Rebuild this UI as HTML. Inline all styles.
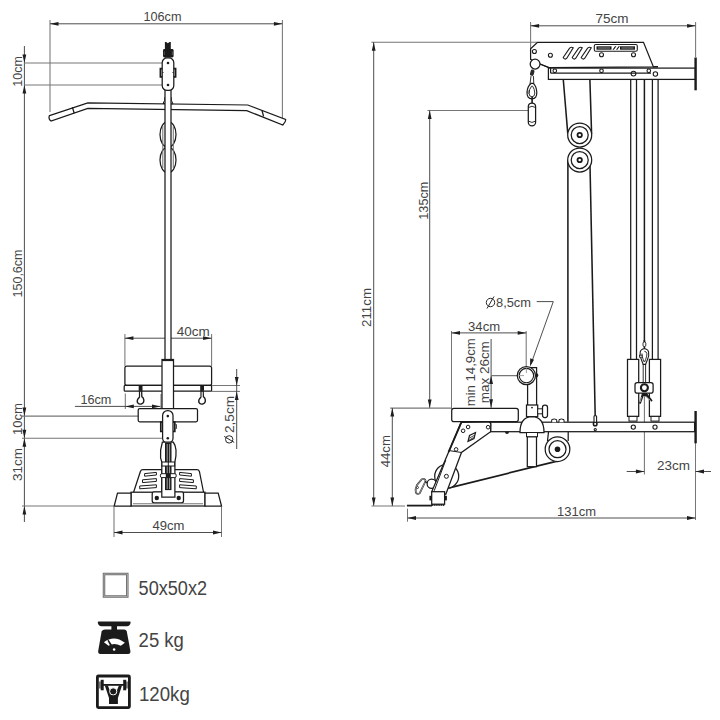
<!DOCTYPE html>
<html><head><meta charset="utf-8">
<style>
html,body{margin:0;padding:0;background:#fff;width:720px;height:720px;overflow:hidden}
svg{display:block}
text{font-family:"Liberation Sans",sans-serif;fill:#444}
.o{fill:#fff;stroke:#1b1b1b;stroke-width:1.25}
.on{fill:none;stroke:#1b1b1b;stroke-width:1.25}
.d{fill:none;stroke:#3a3a3a;stroke-width:0.9}
.e{fill:none;stroke:#767676;stroke-width:1.05}
.a{fill:#1e1e1e;stroke:none}
.k{fill:#1b1b1b;stroke:none}
</style></head>
<body>
<svg width="720" height="720" viewBox="0 0 720 720">
<!-- ================= LEFT VIEW ================= -->
<g id="leftdims">
  <!-- 106cm -->
  <line class="e" x1="50" y1="20" x2="50" y2="112"/>
  <line class="e" x1="282.4" y1="20" x2="282.4" y2="118"/>
  <line class="d" x1="50" y1="23.8" x2="282.4" y2="23.8"/>
  <path class="a" d="M50,23.8 l8.5,-1.9 v3.8 z M282.4,23.8 l-8.5,-1.9 v3.8 z"/>
  <text x="162.5" y="21.3" font-size="13.4" text-anchor="middle" textLength="38" lengthAdjust="spacingAndGlyphs">106cm</text>
  <!-- left vertical dim -->
  <line class="d" x1="24.4" y1="46" x2="24.4" y2="522"/>
  <line class="e" x1="24" y1="63" x2="163" y2="63"/>
  <line class="e" x1="24" y1="85" x2="163" y2="85"/>
  <path class="a" d="M24.4,63 l-1.9,-8.5 h3.8 z M24.4,85 l-1.9,8.5 h3.8 z"/>
  <line class="e" x1="22" y1="416.1" x2="163" y2="416.1"/>
  <line class="e" x1="22" y1="438.3" x2="163" y2="438.3"/>
  <line class="e" x1="22" y1="506" x2="114" y2="506"/>
  <path class="a" d="M24.4,416.1 l-1.9,-8.5 h3.8 z M24.4,438.3 l-1.9,-8.5 h3.8 z M24.4,438.3 l-1.9,8.5 h3.8 z M24.4,506 l-1.9,8.5 h3.8 z"/>
  <text transform="translate(21.9,71.4) rotate(-90)" font-size="13.4" text-anchor="middle" textLength="30.5" lengthAdjust="spacingAndGlyphs">10cm</text>
  <text transform="translate(21.9,273.5) rotate(-90)" font-size="13.4" text-anchor="middle" textLength="48" lengthAdjust="spacingAndGlyphs">150,6cm</text>
  <text transform="translate(21.9,419) rotate(-90)" font-size="13.4" text-anchor="middle" textLength="32" lengthAdjust="spacingAndGlyphs">10cm</text>
  <text transform="translate(21.9,464.5) rotate(-90)" font-size="13.4" text-anchor="middle" textLength="33" lengthAdjust="spacingAndGlyphs">31cm</text>
  <!-- 40cm -->
  <line class="e" x1="124.9" y1="334" x2="124.9" y2="366"/>
  <line class="e" x1="211.6" y1="334" x2="211.6" y2="366"/>
  <line class="d" x1="124.9" y1="338.2" x2="211.6" y2="338.2"/>
  <path class="a" d="M124.9,338.2 l8.5,-1.9 v3.8 z M211.6,338.2 l-8.5,-1.9 v3.8 z"/>
  <text x="193.3" y="335.8" font-size="13.4" text-anchor="middle" textLength="33" lengthAdjust="spacingAndGlyphs">40cm</text>
  <!-- 16cm -->
  <line class="e" x1="125.3" y1="393.6" x2="125.3" y2="409"/>
  <line class="e" x1="161" y1="394" x2="161" y2="408"/>
  <line class="d" x1="74.9" y1="406.4" x2="160.3" y2="406.4"/>
  <path class="a" d="M125.3,406.4 l8.5,-1.9 v3.8 z M160.5,406.4 l-8.5,-1.9 v3.8 z"/>
  <text x="95.9" y="403.8" font-size="13.4" text-anchor="middle" textLength="31" lengthAdjust="spacingAndGlyphs">16cm</text>
  <!-- 2,5cm -->
  <line class="e" x1="211.6" y1="385.5" x2="240" y2="385.5"/>
  <line class="e" x1="211.6" y1="391.4" x2="240" y2="391.4"/>
  <line class="d" x1="236.7" y1="369" x2="236.7" y2="449"/>
  <path class="a" d="M236.7,385.5 l-1.9,-8.5 h3.8 z M236.7,391.4 l-1.9,8.5 h3.8 z"/>
  <text transform="translate(233.9,414.5) rotate(-90)" font-size="13.4" text-anchor="middle" textLength="37" lengthAdjust="spacingAndGlyphs">2,5cm</text>
  <g transform="translate(229.2,439.4)"><circle cx="0" cy="0" r="3.7" fill="none" stroke="#2a2a2a" stroke-width="1"/><line x1="-5" y1="-3" x2="5" y2="3" stroke="#2a2a2a" stroke-width="1"/></g>
  <!-- 49cm -->
  <line class="e" x1="114" y1="507" x2="114" y2="537"/>
  <line class="e" x1="221.5" y1="507" x2="221.5" y2="537"/>
  <line class="d" x1="114" y1="532.5" x2="221.5" y2="532.5"/>
  <path class="a" d="M114,532.5 l8.5,-1.9 v3.8 z M221.5,532.5 l-8.5,-1.9 v3.8 z"/>
  <text x="168.5" y="530" font-size="13.4" text-anchor="middle" textLength="32" lengthAdjust="spacingAndGlyphs">49cm</text>
</g>

<g id="leftmachine">
  <!-- bar -->
  <path class="o" d="M49.5,115.6 L87.8,102.8 L247.8,105 L285.6,119.4 Q286.2,121.4 282.8,125 L246.7,110.6 L87.8,108.3 L51,121.1 Q48,119 49.5,115.6 Z"/>
  <line class="on" x1="72.4" y1="107.3" x2="74.2" y2="113.2"/>
  <line class="on" x1="262" y1="110.5" x2="263.6" y2="116.3"/>
  <!-- gussets -->
  <path class="o" d="M163,103.5 Q165,101 165,97 L171,97 Q171,101 173,103.8 Z" style="stroke-width:1"/>
  <!-- wheels -->
  <ellipse class="o" cx="168" cy="134.5" rx="8" ry="12.8"/>
  <ellipse class="o" cx="168" cy="160" rx="8" ry="12.8"/>
  <line class="e" x1="162.8" y1="126" x2="162.8" y2="168"/>
  <line class="e" x1="173.3" y1="126" x2="173.3" y2="168"/>
  <!-- pole -->
  <rect class="o" x="165" y="88" width="6" height="272"/>
  <!-- top -->
  <path class="k" d="M164.9,42 L166.2,42 L167.8,43.2 L169.5,42 L170.8,42 L170.8,57.6 L164.9,57.6 Z"/>
  <rect class="k" x="163" y="49" width="10.6" height="8.4" rx="1.4"/>
  <path d="M164.3,51.5 v3.5 M172.3,51.5 v3.5" stroke="#777" stroke-width="0.6"/>
  <rect class="o" x="162.2" y="57.8" width="11.6" height="32.6" rx="5"/>
  <circle class="k" cx="168" cy="63" r="1.3"/>
  <circle class="k" cx="168" cy="85" r="1.3"/>
  <path d="M162.2,68.6 h-1.8 v8.2 h1.8 M173.8,68.6 h1.8 v8.2 h-1.8" fill="none" stroke="#1b1b1b" stroke-width="1.7"/>
  <path d="M162.4,72.5 h1.2 M173.6,72.5 h-1.2" stroke="#1b1b1b" stroke-width="0.8"/>

  <!-- seat -->
  <rect class="o" x="124.9" y="366" width="86.7" height="19.4" rx="2"/>
  <rect class="o" x="124.2" y="385.4" width="87.4" height="5.8" rx="1"/>
  <rect class="o" x="162" y="359.5" width="11.5" height="52"/>
  <rect class="k" x="162" y="359.5" width="11.5" height="1.6"/>
  <!-- pins -->
  <g>
    <rect class="k" x="138.7" y="385.4" width="3.8" height="5.4"/>
    <path d="M139.6,390.6 L139.6,397 Q136.6,399.6 137.4,402.4 Q138.6,404.6 141,404 Q144.2,403 143.8,399.8 Q143.5,397.6 141.8,396.6 L141.6,390.6" fill="none" stroke="#1b1b1b" stroke-width="1.4"/>
    <line x1="140.6" y1="392" x2="140.6" y2="401" stroke="#fff" stroke-width="0.7"/>
    <rect class="k" x="200.2" y="385.4" width="3.8" height="5.4"/>
    <path d="M201.1,390.6 L201.1,397 Q198.1,399.6 198.9,402.4 Q200.1,404.6 202.5,404 Q205.7,403 205.3,399.8 Q205,397.6 203.3,396.6 L203.1,390.6" fill="none" stroke="#1b1b1b" stroke-width="1.4"/>
    <line x1="202.1" y1="392" x2="202.1" y2="401" stroke="#fff" stroke-width="0.7"/>
  </g>
  <!-- thigh pad -->
  <rect class="o" x="138.2" y="408.5" width="59.3" height="13.3" rx="1.5"/>
  <!-- lower plate -->
  <rect class="o" x="162.6" y="410.5" width="10.4" height="32.7" rx="5"/>
  <circle class="k" cx="167.8" cy="416.1" r="1.3"/>
  <circle class="k" cx="167.8" cy="438.3" r="1.3"/>
  <path d="M162.6,422 h-1.8 v9.5 h1.8 M173,422 h1.8 v9.5 h-1.8" fill="none" stroke="#1b1b1b" stroke-width="1.7"/>
  <path d="M175.5,424.5 h1 v4 h-1" fill="none" stroke="#1b1b1b" stroke-width="0.8"/>
  <!-- foot pads -->
  <path class="o" d="M133.5,492.5 L140.4,471.5 Q141,469.6 143,469.6 L161.7,469.6 L161.7,492.5 Z"/>
  <path class="o" d="M203.6,492.5 L199.4,471.5 Q198.8,469.6 196.8,469.6 L174.2,469.6 L174.2,492.5 Z"/>
  <g class="o" style="stroke-width:1">
    <path d="M144.6,473.6 L156.4,472.4 L156.4,475 L144.6,476.2 Z"/>
    <path d="M142.5,479.8 L156.4,478.6 L156.4,481.4 L142.5,482.6 Z"/>
    <path d="M139.7,486 L156.4,484.8 L156.4,487.6 L139.7,488.8 Z"/>
    <path d="M191.4,473.6 L179.6,472.4 L179.6,475 L191.4,476.2 Z"/>
    <path d="M193.4,479.8 L179.6,478.6 L179.6,481.4 L193.4,482.6 Z"/>
    <path d="M196.3,486 L179.6,484.8 L179.6,487.6 L196.3,488.8 Z"/>
  </g>
  <!-- base -->
  <rect class="o" x="131" y="492.2" width="74" height="13.8"/>
  <path class="o" d="M114.2,506 L117.5,493 L131,493 L131,506 Z"/>
  <path class="o" d="M221.5,506 L218.2,493 L205,493 L205,506 Z"/>
  <rect class="o" x="152.2" y="491.8" width="31.3" height="11" rx="2"/>
  <circle class="k" cx="156.8" cy="498" r="2.2"/>
  <circle class="k" cx="178.7" cy="498" r="2.2"/>
  <line class="e" x1="133" y1="503.8" x2="203" y2="503.8"/>
  <!-- column lower -->
  <path class="o" d="M162.4,442 Q159.8,450 160.6,458 L161.8,462 L161.8,497 L174.9,497 L174.9,462 Q176.4,456 176,450 Q175.5,445 173.2,442 Z"/>
  <rect class="k" x="165" y="442.6" width="6.5" height="47.5"/>
  <line x1="167.2" y1="444" x2="167.2" y2="489" stroke="#fff" stroke-width="0.6"/>
  <line x1="169.6" y1="444" x2="169.6" y2="489" stroke="#fff" stroke-width="0.6"/>
  <rect class="o" x="162" y="462" width="12.6" height="4" style="stroke-width:1"/>
  <line x1="168.3" y1="462" x2="168.3" y2="466" stroke="#1b1b1b" stroke-width="1"/>
  <rect class="o" x="160.4" y="473.7" width="15.8" height="3.9" rx="1.5" style="stroke-width:1"/>
  <rect class="k" x="165.8" y="473.7" width="5" height="3.9"/>
</g>

<!-- ================= RIGHT VIEW ================= -->
<g id="rightdims">
  <!-- 75cm -->
  <line class="e" x1="530.6" y1="22" x2="530.6" y2="49"/>
  <line class="e" x1="695.6" y1="22" x2="695.6" y2="57"/>
  <line class="d" x1="530.6" y1="25.8" x2="695.6" y2="25.8"/>
  <path class="a" d="M530.6,25.8 l8.5,-1.9 v3.8 z M695.6,25.8 l-8.5,-1.9 v3.8 z"/>
  <text x="612" y="23.3" font-size="13.4" text-anchor="middle" textLength="33" lengthAdjust="spacingAndGlyphs">75cm</text>
  <!-- 211cm -->
  <line class="e" x1="371.3" y1="42.2" x2="537" y2="42.2"/>
  <line class="d" x1="373.7" y1="42.2" x2="373.7" y2="506"/>
  <path class="a" d="M373.7,42.2 l-1.9,8.5 h3.8 z M373.7,506 l-1.9,-8.5 h3.8 z"/>
  <line class="e" x1="371.5" y1="506" x2="405" y2="506"/>
  <text transform="translate(370.5,307.5) rotate(-90)" font-size="13.4" text-anchor="middle" textLength="39" lengthAdjust="spacingAndGlyphs">211cm</text>
  <!-- 135cm -->
  <line class="e" x1="427.5" y1="110.5" x2="528.5" y2="110.5"/>
  <line class="d" x1="429.7" y1="110.5" x2="429.7" y2="408.1"/>
  <path class="a" d="M429.7,110.5 l-1.9,8.5 h3.8 z M429.7,408.1 l-1.9,-8.5 h3.8 z"/>
  <line class="e" x1="390.2" y1="408.1" x2="451.7" y2="408.1"/>
  <text transform="translate(427.8,200.7) rotate(-90)" font-size="13.4" text-anchor="middle" textLength="38" lengthAdjust="spacingAndGlyphs">135cm</text>
  <!-- 44cm -->
  <line class="d" x1="392.3" y1="408.1" x2="392.3" y2="506"/>
  <path class="a" d="M392.3,408.1 l-1.9,8.5 h3.8 z M392.3,506 l-1.9,-8.5 h3.8 z"/>
  <text transform="translate(390.4,451.2) rotate(-90)" font-size="13.4" text-anchor="middle" textLength="32" lengthAdjust="spacingAndGlyphs">44cm</text>
  <!-- 131cm -->
  <line class="e" x1="407.5" y1="508.7" x2="407.5" y2="521.7"/>
  <line class="e" x1="695.5" y1="443" x2="695.5" y2="520"/>
  <line class="d" x1="407.5" y1="518" x2="695.5" y2="518"/>
  <path class="a" d="M407.5,518 l8.5,-1.9 v3.8 z M695.5,518 l-8.5,-1.9 v3.8 z"/>
  <text x="576.6" y="515.8" font-size="13.4" text-anchor="middle" textLength="39" lengthAdjust="spacingAndGlyphs">131cm</text>
  <!-- 23cm -->
  <line class="e" x1="644.4" y1="394" x2="644.4" y2="474.4"/>
  <line class="d" x1="626.7" y1="471.5" x2="644.4" y2="471.5"/>
  <line class="d" x1="695.5" y1="471.5" x2="711" y2="471.5"/>
  <path class="a" d="M644.4,471.5 l-8.5,-1.9 v3.8 z M695.5,471.5 l8.5,-1.9 v3.8 z"/>
  <text x="673.6" y="469.6" font-size="13.4" text-anchor="middle" textLength="33" lengthAdjust="spacingAndGlyphs">23cm</text>
  <!-- 34cm -->
  <line class="e" x1="451.5" y1="331" x2="451.5" y2="409"/>
  <line class="e" x1="526.2" y1="331" x2="526.2" y2="368"/>
  <line class="d" x1="451.5" y1="332.9" x2="526.2" y2="332.9"/>
  <path class="a" d="M451.5,332.9 l8.5,-1.9 v3.8 z M526.2,332.9 l-8.5,-1.9 v3.8 z"/>
  <text x="484.1" y="330.5" font-size="13.4" text-anchor="middle" textLength="32" lengthAdjust="spacingAndGlyphs">34cm</text>
  <!-- min/max -->
  <line class="d" x1="491.1" y1="339" x2="491.1" y2="407.8"/>
  <line class="e" x1="491.1" y1="375.6" x2="524.5" y2="375.6"/>
  <path class="a" d="M491.1,375.6 l-1.9,8.5 h3.8 z M491.1,407.8 l-1.9,-8.5 h3.8 z"/>
  <text transform="translate(474.8,372.3) rotate(-90)" font-size="13.4" text-anchor="middle" textLength="68" lengthAdjust="spacingAndGlyphs">min 14,9cm</text>
  <text transform="translate(489.2,372.2) rotate(-90)" font-size="13.4" text-anchor="middle" textLength="62" lengthAdjust="spacingAndGlyphs">max 26cm</text>
  <!-- 8,5cm -->
  <text x="513.5" y="306.8" font-size="13.4" text-anchor="middle" textLength="35" lengthAdjust="spacingAndGlyphs">8,5cm</text>
  <g transform="translate(490.5,302.5)"><circle cx="0" cy="0" r="4.2" fill="none" stroke="#2a2a2a" stroke-width="1"/><line x1="-3.5" y1="6" x2="3.5" y2="-6" stroke="#2a2a2a" stroke-width="1"/></g>
  <path class="d" d="M536.7,301.6 L553.3,301.6 L531,364"/>
  <path class="a" d="M530,366.5 l0.2,-8.2 l3.8,1.4 z"/>
</g>

<g id="rightmachine">
  <!-- vertical rails -->
  <g class="on">
    <line x1="630.7" y1="79" x2="630.7" y2="359.4"/>
    <line x1="636.5" y1="79" x2="636.5" y2="359.4"/>
    <line x1="652.4" y1="79" x2="652.4" y2="359.4"/>
    <line x1="658.1" y1="79" x2="658.1" y2="359.4"/>
    <line x1="644.4" y1="79" x2="644.4" y2="345" style="stroke-width:1.5"/>
  </g>
  <path class="k" d="M643.6,340 h1.6 v9 h-1.6 z"/>
  <!-- cable loop around pulleys -->
  <g class="on" style="stroke-width:1.55">
    <line x1="563.3" y1="79.7" x2="567.8" y2="134"/>
    <line x1="589.9" y1="79.7" x2="591.6" y2="134"/>
    <line x1="567.9" y1="160" x2="567.9" y2="421.7"/>
    <line x1="589.9" y1="160" x2="595.2" y2="416"/>
  </g>
  <!-- top plate -->
  <path class="o" d="M537.5,42.3 L643.5,42.3 L653.4,66.8 L548.8,67.5 L540,64 L530.6,59.4 L530.6,48.8 Z"/>
  <!-- arm -->
  <rect class="o" x="548.4" y="68.1" width="147" height="11.3"/>
  <line class="on" x1="550.6" y1="73.1" x2="651" y2="73.1"/>
  <line class="on" x1="550.6" y1="68.1" x2="550.6" y2="73.1"/>
  <rect class="k" x="694.4" y="57.5" width="2.4" height="32.8"/>
  <path class="on" d="M540,64 L548.8,67.5"/>
  <path class="on" d="M653.4,66.8 L658,66.8" style="stroke-width:1.6"/>
  <!-- holes -->
  <g class="on" style="stroke-width:1.1">
    <circle cx="534.4" cy="51.5" r="2"/>
    <circle cx="550.4" cy="55.25" r="2"/>
    <circle cx="601.5" cy="54.8" r="2"/>
    <circle cx="633.5" cy="54.8" r="2"/>
    <circle cx="554.8" cy="70.8" r="1.8"/>
    <circle cx="601.5" cy="70.8" r="1.8"/>
    <circle cx="633.5" cy="73.6" r="2.4"/>
    <circle cx="648.8" cy="70.8" r="1.8"/>
    <circle cx="655.4" cy="74" r="2.2"/>
    <path d="M563.2,57.5 L569.6,48.2 Q571.5,46.6 573.2,47.8 L566.8,58.2 Q565,60.3 563.2,57.5 Z"/>
    <path d="M572.2,57.5 L578.6,48.2 Q580.5,46.6 582.2,47.8 L575.8,58.2 Q574,60.3 572.2,57.5 Z"/>
    <path d="M581.2,57.5 L587.6,48.2 Q589.5,46.6 591.2,47.8 L584.8,58.2 Q583,60.3 581.2,57.5 Z"/>
  </g>
  <!-- logo -->
  <rect class="o" x="594.3" y="44.5" width="43" height="6.8" rx="1.5" style="stroke-width:1.1"/>
  <rect class="k" x="596.5" y="46.3" width="15" height="3.4"/>
  <rect class="k" x="620" y="46.3" width="15" height="3.4"/>
  <path class="k" d="M612.5,49.8 l2.5,-3.6 h1.4 l-2.5,3.6 z M616,49.8 l2.5,-3.6 h1.4 l-2.5,3.6 z"/>
  <g stroke="#fff" stroke-width="0.5">
    <line x1="598" y1="48" x2="610" y2="48"/><line x1="621.5" y1="48" x2="633.5" y2="48"/>
  </g>
  <!-- top pulley & handle -->
  <circle class="o" cx="535.1" cy="64.1" r="4.9"/>
  <rect x="530.3" y="69.6" width="3.8" height="6.2" rx="1.5" fill="#2a2a2a" transform="rotate(15 532.2 72.7)"/>
  <g class="on" style="stroke-width:0.9">
    <path d="M531,76 L530,84 M533.4,76 L533.8,84"/>
    <path d="M531,83.4 Q527.6,86 527,92 Q526.8,98.8 532,98.8 Q537,98.8 536.8,92 Q536.3,86 533.2,83.4 Z" style="stroke-width:1.2"/>
    <path d="M531.6,86.2 Q529.2,89 529,93 Q529,96.8 532,96.8 Q534.8,96.8 534.8,93 Q534.6,89 532.6,86.2 Z"/>
  </g>
  <circle cx="528.6" cy="92" r="1" fill="#fff" stroke="#1b1b1b" stroke-width="0.8"/>
  <line x1="532.1" y1="97" x2="532.1" y2="103" stroke="#1b1b1b" stroke-width="1.6"/>
  <rect class="o" x="528.3" y="103" width="7.3" height="22.8" rx="3.6"/>
  <path class="on" d="M528.5,107.5 Q532,105 535.4,107.5 M528.5,121.2 Q532,123.6 535.4,121.2" style="stroke-width:0.9"/>
  <!-- pulley wheels -->
  <g>
    <circle class="o" cx="579.7" cy="135" r="12"/>
    <circle class="on" cx="579.7" cy="135" r="8.5"/>
    <circle class="on" cx="579.7" cy="135" r="2.2" style="stroke-width:1.8"/>
    <circle class="o" cx="579.7" cy="160" r="12"/>
    <circle class="on" cx="579.7" cy="160" r="8.5"/>
    <circle class="on" cx="579.7" cy="160" r="2.2" style="stroke-width:1.8"/>
  </g>
  <!-- weight stack -->
  <rect class="o" x="627.5" y="359.4" width="11.2" height="57"/>
  <rect class="o" x="649.4" y="359.4" width="11.2" height="57"/>
  <rect class="o" x="629" y="416.4" width="8" height="4.7" style="stroke-width:1"/>
  <rect class="o" x="651" y="416.4" width="8" height="4.7" style="stroke-width:1"/>
  <path class="on" d="M643.2,364 L643.2,382.5 M645.6,364 L645.6,382.5" style="stroke-width:0.9"/>
  <rect x="643" y="342" width="2.8" height="4.5" rx="1.2" fill="#fff" stroke="#1b1b1b" stroke-width="0.9"/>
  <path class="o" d="M644.4,348.8 Q647.6,348.8 648.6,352 Q649.4,355.5 647.3,360 L645.6,364.4 L643.2,364.4 L641.5,360 Q639.4,355.5 640.2,352 Q641.2,348.8 644.4,348.8 Z" style="stroke-width:1.1"/>
  <path class="on" d="M644.4,351.3 Q646.5,351.5 646.9,353.5 Q647,356 645.6,359.5 L644.6,362 M644.2,362 L643.2,359.5 Q641.8,356 642,353.5" style="stroke-width:0.9"/>
  <rect x="639.5" y="355.2" width="2.6" height="2" fill="#fff" stroke="#1b1b1b" stroke-width="0.8"/>
  <rect class="o" x="635" y="382.5" width="18.1" height="10.6" rx="2.2"/>
  <circle cx="644.4" cy="387.8" r="3.5" fill="#fff" stroke="#1b1b1b" stroke-width="2.1"/>
  <path class="k" d="M642,393 L639,403.6 L640.8,403.8 L643.6,396 L645,396 L651.5,401.8 L652.6,400.6 L646.8,393 Z"/>
  <path d="M641.4,397 L640.2,402 M646,396.5 L650.5,400.6" stroke="#fff" stroke-width="0.6"/>
  <!-- lower frame beam -->
  <rect class="o" x="490.6" y="422.2" width="204" height="9.5"/>
  <rect class="k" x="694.4" y="411" width="2.4" height="32.3"/>
  <g class="on" style="stroke-width:1.1">
    <circle cx="633.3" cy="427.1" r="2.1"/>
    <circle cx="655" cy="427.1" r="2.1"/>
    <circle cx="595.25" cy="429.6" r="1.1"/>
    <circle cx="595.2" cy="423.9" r="1.8" style="stroke-width:1.5"/>
  </g>
  <path class="o" d="M551.7,422.2 v-2.6 q2.5,-1.2 5,0 v2.6 M559,422.2 v-2.6 q2.5,-1.2 5,0 v2.6" style="stroke-width:1"/>
  <rect x="594" y="415.8" width="2.6" height="6.4" rx="0.8" fill="#fff" stroke="#1b1b1b" stroke-width="1.1"/>
  <path class="k" d="M505,431.7 h4 q0,2.2 -2,2.2 q-2,0 -2,-2.2 z"/>
  <!-- bracket + wheel under beam -->
  <path class="on" d="M548.5,431.7 L547.5,441 M568.2,431.7 L568.2,441"/>
  <line class="on" x1="449.2" y1="487.8" x2="558.3" y2="460.8" style="stroke-width:1.7"/>
  <circle class="o" cx="557.5" cy="449.2" r="12.3"/>
  <circle class="on" cx="557.5" cy="449.2" r="8.5"/>
  <circle class="k" cx="557.5" cy="449.2" r="2.8"/>

  <!-- seat post -->
  <rect class="o" x="527.3" y="436.7" width="9.2" height="30"/>
  <rect class="o" x="527.6" y="367.6" width="9" height="38"/>
  <rect class="o" x="526.5" y="405" width="11.2" height="11.7"/>
  <circle class="k" cx="532" cy="407.6" r="0.9"/>
  <rect class="o" x="537.7" y="408.8" width="5" height="5" style="stroke-width:1"/>
  <rect class="o" x="542.5" y="405" width="5" height="12.5" rx="2.2"/>
  <path class="o" d="M520,432.5 Q520,417 532,416.7 Q544,417 544,432.5 Z"/>
  <rect class="o" x="526.5" y="432.5" width="11" height="4.2" style="stroke-width:1"/>
  <!-- ring -->
  <circle class="o" cx="526.4" cy="375.6" r="9.1"/>
  <circle class="on" cx="526.4" cy="375.6" r="7.2" style="stroke-width:1.1"/>
  <path class="k" d="M536.6,373 Q540.2,375.2 536.6,377.8 Z"/>
  <line x1="519" y1="375.6" x2="524" y2="375.6" stroke="#8a8a8a" stroke-width="0.8"/>
  <line x1="526.4" y1="368" x2="526.4" y2="373" stroke="#8a8a8a" stroke-width="0.8"/>
  <!-- seat pad -->
  <rect class="o" x="451.7" y="408.3" width="66.6" height="13.4" rx="2.2"/>
  <!-- leg & bracket -->
  <circle class="o" cx="446.7" cy="476.3" r="12"/>
  <circle class="o" cx="431.7" cy="483.8" r="4.6"/>
  <path class="o" d="M461.2,422.4 L488.6,422.2 Q491,422.2 490.8,425 L490.6,431.7 L461.5,452.5 L445.8,494.2 L431.7,491.7 Z"/>
  <path class="on" d="M449.2,450.6 L461.5,452.5 M445.8,460 L434.2,490.8" style="stroke-width:1"/>
  <line x1="461.2" y1="422.6" x2="448.6" y2="452" stroke="#1b1b1b" stroke-width="1.9"/>
  <g class="on" style="stroke-width:1">
    <circle cx="468.1" cy="427" r="1.8"/>
    <circle cx="463.1" cy="430.8" r="1.8"/>
    <circle cx="488.1" cy="427.2" r="1.8"/>
    <circle cx="456.1" cy="449.4" r="1.8"/>
    <circle cx="446.4" cy="476.3" r="2"/>
  </g>
  <path d="M421.8,479.2 Q425,478 425.6,481 L419.8,493.2 Q417.5,495 415.8,492.5 Q415,489 417,485 Z" fill="none" stroke="#2a2a2a" stroke-width="1.7"/>
  <path d="M421.8,479.2 Q425,478 425.6,481 L419.8,493.2 Q417.5,495 415.8,492.5 Q415,489 417,485 Z" fill="none" stroke="#fff" stroke-width="0.5"/>
  <line x1="425" y1="481.5" x2="427.5" y2="483" stroke="#1b1b1b" stroke-width="1.2"/>
  <circle cx="417.5" cy="487.5" r="1" fill="#fff" stroke="#1b1b1b" stroke-width="0.8"/>
  <path d="M468,441.5 l1.5,-6 l6,-3 l-1.5,6 z" fill="none" stroke="#1b1b1b" stroke-width="1.2"/><path d="M469.5,438 l4.5,-2.5 M469.2,440 l4.5,-2.5" stroke="#1b1b1b" stroke-width="0.8"/>
  <rect class="o" x="431.7" y="491.7" width="12.9" height="12.5"/>
  <rect class="k" x="429.4" y="495.8" width="2.3" height="4.6"/>
  <rect class="k" x="444.6" y="495.8" width="2.3" height="4.6"/>
  <line x1="431.7" y1="505" x2="444.6" y2="505" stroke="#1b1b1b" stroke-width="2" stroke-dasharray="1.2,0.7"/>
  <line x1="406.9" y1="505.6" x2="432" y2="505.6" stroke="#1b1b1b" stroke-width="1.8"/>
</g>

<!-- ================= LEGEND ================= -->
<g id="legend">
  <rect x="104" y="574" width="23.3" height="22.5" fill="none" stroke="#6e6e6e" stroke-width="2.5"/>
  <rect x="104" y="574" width="23.3" height="22.5" fill="none" stroke="#c8c8c8" stroke-width="0.6"/>
  <text x="138.6" y="594.8" font-size="19.5" textLength="68.4" lengthAdjust="spacingAndGlyphs">50x50x2</text>
  <!-- scale -->
  <path class="k" d="M98.6,621.6 L129.8,621.6 Q130.8,621.6 130.6,622.8 Q130,626.2 127,626.2 L101.4,626.2 Q98.4,626.2 97.8,622.8 Q97.6,621.6 98.6,621.6 Z"/>
  <rect class="k" x="111.4" y="625.5" width="5.6" height="4.5"/>
  <path class="k" d="M105,629.6 L124.2,629.6 Q126.2,629.6 126.8,631.6 L130.4,651 Q130.8,653.9 128,653.9 L100.6,653.9 Q97.8,653.9 98.2,651 L101.6,631.6 Q102.4,629.6 105,629.6 Z"/>
  <path d="M103.9,642.3 Q114.1,634.6 124.9,642.8 L120.8,645.8 Q114.1,642 108.6,645.8 Z" fill="#fff"/>
  <path d="M107.4,640.5 L108.6,639.7 L112.2,645.2 L110.4,646.2 Z" fill="#1b1b1b"/>
  <circle cx="114.1" cy="649.4" r="1.25" fill="#fff"/>
  <text x="138.6" y="647.3" font-size="19.5" textLength="45.3" lengthAdjust="spacingAndGlyphs">25 kg</text>
  <!-- barbell -->
  <rect x="97.4" y="676" width="32" height="31.6" rx="1" fill="none" stroke="#1b1b1b" stroke-width="2.8"/>
  <rect class="k" x="102" y="684" width="23" height="1.8"/>
  <rect class="k" x="100.7" y="679.8" width="3" height="10.5"/>
  <rect class="k" x="123.2" y="679.8" width="3" height="10.5"/>
  <rect x="99.2" y="681.5" width="1.5" height="7" fill="#555"/>
  <rect x="126.2" y="681.5" width="1.5" height="7" fill="#555"/>
  <path class="k" d="M104.8,685.6 L107.9,685.6 L111.3,694.5 L115.3,694.5 L118.9,685.6 L122,685.6 L117.9,698 L117.9,704 L109,704 L109,698 Z"/>
  <circle cx="113.2" cy="691.4" r="3.6" fill="#1b1b1b" stroke="#fff" stroke-width="1"/>
  <rect class="k" x="109.8" y="695.6" width="7.2" height="3"/>
  <text x="139" y="701" font-size="19.5" textLength="50.8" lengthAdjust="spacingAndGlyphs">120kg</text>
</g>
</svg>
</body></html>
